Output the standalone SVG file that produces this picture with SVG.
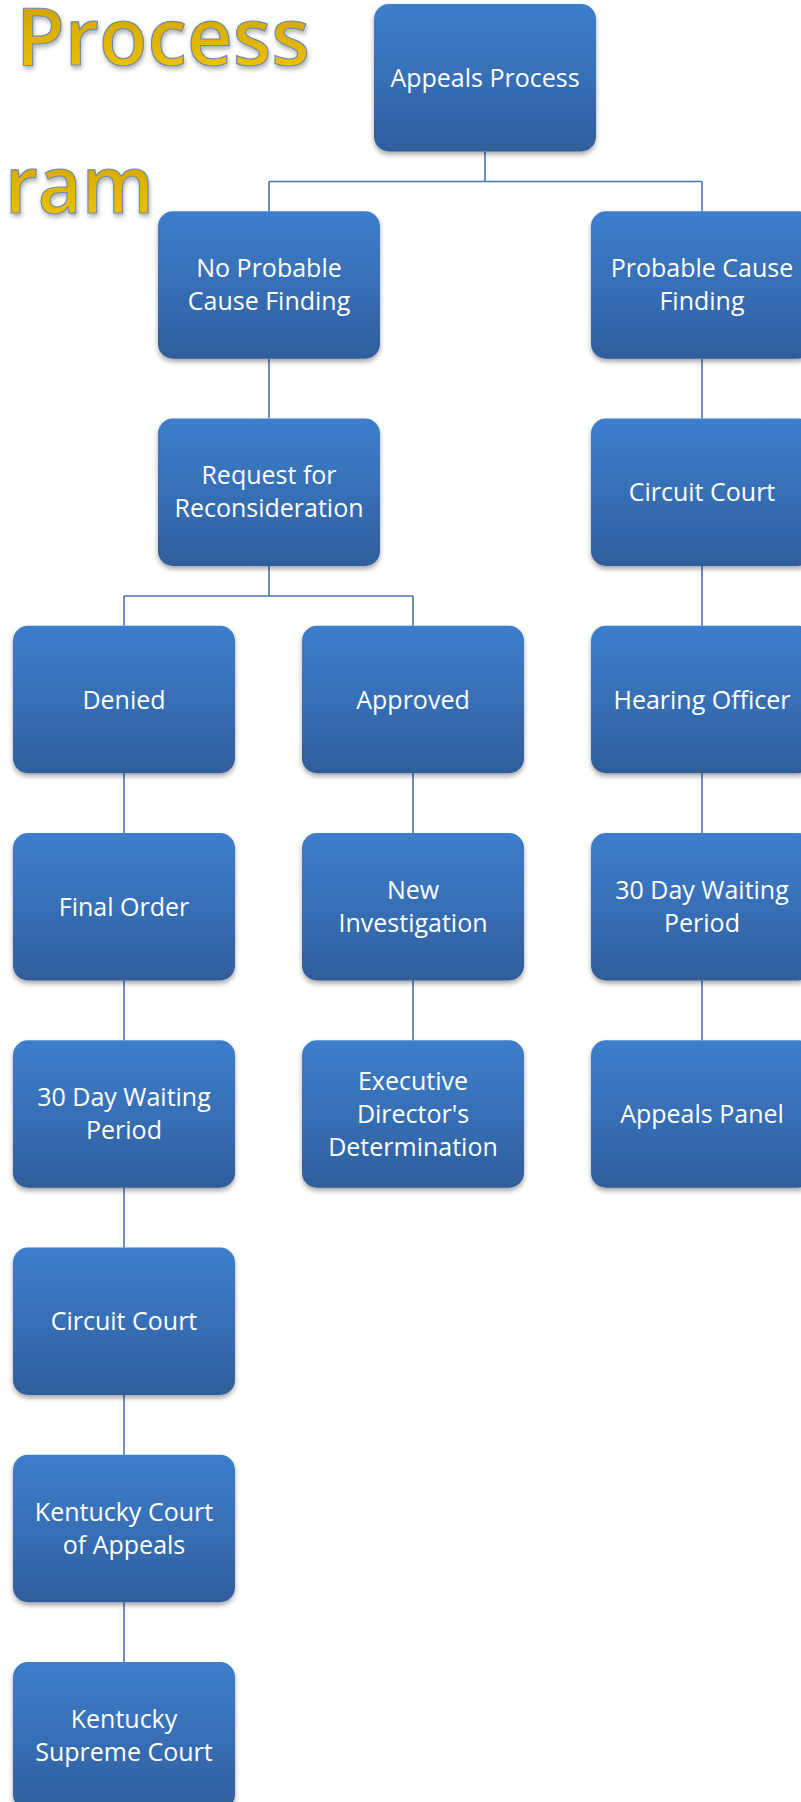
<svg xmlns="http://www.w3.org/2000/svg" width="801" height="1802" viewBox="0 0 801 1802">
  <defs>
    <linearGradient id="boxFill" x1="0" y1="0" x2="0" y2="1">
      <stop offset="0" stop-color="#3c7ecb"/>
      <stop offset="0.5" stop-color="#376fb6"/>
      <stop offset="1" stop-color="#2f5e9b"/>
    </linearGradient>
    <linearGradient id="goldFill" x1="0" y1="0" x2="0" y2="1">
      <stop offset="0" stop-color="#c59700"/>
      <stop offset="1" stop-color="#f7ca00"/>
    </linearGradient>
    <filter id="boxShadow" x="-10%" y="-10%" width="120%" height="125%">
      <feDropShadow dx="0" dy="3" stdDeviation="2.5" flood-color="#000" flood-opacity="0.35"/>
    </filter>
    <filter id="titleShadow" x="-5%" y="-10%" width="110%" height="130%">
      <feDropShadow dx="1" dy="3" stdDeviation="2" flood-color="#000" flood-opacity="0.3"/>
    </filter>
  </defs>
  <style>
    .box { fill: url(#boxFill); filter: url(#boxShadow); }
    .lbl { font-family: "Open Sans", "Noto Sans", "Liberation Sans", sans-serif; font-size: 25px; fill: #ffffff; text-anchor: middle; }
    .title { font-family: "Open Sans", "Noto Sans", "Liberation Sans", sans-serif; font-weight: 600; font-size: 80px; fill: url(#goldFill); stroke: #6e8aae; stroke-width: 1.2; filter: url(#titleShadow); }
    .conn { fill: none; stroke: #4a76ad; stroke-width: 1.6; }
  </style>

  <!-- heading fragments -->
  <g id="title">
    <text class="title" x="16" y="65" textLength="294" lengthAdjust="spacingAndGlyphs">Process</text>
    <text class="title" x="5" y="213" textLength="149" lengthAdjust="spacingAndGlyphs">ram</text>
  </g>

  <!-- connectors -->
  <g id="connectors">
    <path class="conn" d="M485 151.5 V181.5 M269 181.5 H702 M269 181.5 V211.25 M702 181.5 V211.25"/>
    <path class="conn" d="M269 358.75 V418.5"/>
    <path class="conn" d="M269 566 V596 M124 596 H413 M124 596 V625.75 M413 596 V625.75"/>
    <path class="conn" d="M702 358.75 V418.5 M702 566 V625.75 M702 773.25 V833 M702 980.5 V1040.25"/>
    <path class="conn" d="M124 773.25 V833 M124 980.5 V1040.25 M124 1187.75 V1247.5 M124 1395 V1454.75 M124 1602.25 V1662"/>
    <path class="conn" d="M413 773.25 V833 M413 980.5 V1040.25"/>
  </g>

  <g id="n-appeals-process">
    <rect class="box" x="374" y="4" width="222" height="147.5" rx="15"/>
    <text class="lbl" x="485" y="87">Appeals Process</text>
  </g>

  <g id="n-no-probable-cause">
    <rect class="box" x="158" y="211.25" width="222" height="147.5" rx="15"/>
    <text class="lbl" x="269" y="277">No Probable</text>
    <text class="lbl" x="269" y="310">Cause Finding</text>
  </g>

  <g id="n-probable-cause">
    <rect class="box" x="591" y="211.25" width="222" height="147.5" rx="15"/>
    <text class="lbl" x="702" y="277">Probable Cause</text>
    <text class="lbl" x="702" y="310">Finding</text>
  </g>

  <g id="n-reconsideration">
    <rect class="box" x="158" y="418.5" width="222" height="147.5" rx="15"/>
    <text class="lbl" x="269" y="484.25">Request for</text>
    <text class="lbl" x="269" y="517.25">Reconsideration</text>
  </g>

  <g id="n-circuit-court-right">
    <rect class="box" x="591" y="418.5" width="222" height="147.5" rx="15"/>
    <text class="lbl" x="702" y="501.25">Circuit Court</text>
  </g>

  <g id="n-denied">
    <rect class="box" x="13" y="625.75" width="222" height="147.5" rx="15"/>
    <text class="lbl" x="124" y="708.5">Denied</text>
  </g>

  <g id="n-approved">
    <rect class="box" x="302" y="625.75" width="222" height="147.5" rx="15"/>
    <text class="lbl" x="413" y="708.5">Approved</text>
  </g>

  <g id="n-hearing-officer">
    <rect class="box" x="591" y="625.75" width="222" height="147.5" rx="15"/>
    <text class="lbl" x="702" y="708.5">Hearing Officer</text>
  </g>

  <g id="n-final-order">
    <rect class="box" x="13" y="833" width="222" height="147.5" rx="15"/>
    <text class="lbl" x="124" y="915.75">Final Order</text>
  </g>

  <g id="n-new-investigation">
    <rect class="box" x="302" y="833" width="222" height="147.5" rx="15"/>
    <text class="lbl" x="413" y="898.75">New</text>
    <text class="lbl" x="413" y="931.75">Investigation</text>
  </g>

  <g id="n-waiting-right">
    <rect class="box" x="591" y="833" width="222" height="147.5" rx="15"/>
    <text class="lbl" x="702" y="898.75">30 Day Waiting</text>
    <text class="lbl" x="702" y="931.75">Period</text>
  </g>

  <g id="n-waiting-left">
    <rect class="box" x="13" y="1040.25" width="222" height="147.5" rx="15"/>
    <text class="lbl" x="124" y="1106">30 Day Waiting</text>
    <text class="lbl" x="124" y="1139">Period</text>
  </g>

  <g id="n-director-determination">
    <rect class="box" x="302" y="1040.25" width="222" height="147.5" rx="15"/>
    <text class="lbl" x="413" y="1090">Executive</text>
    <text class="lbl" x="413" y="1123">Director's</text>
    <text class="lbl" x="413" y="1156">Determination</text>
  </g>

  <g id="n-appeals-panel">
    <rect class="box" x="591" y="1040.25" width="222" height="147.5" rx="15"/>
    <text class="lbl" x="702" y="1123">Appeals Panel</text>
  </g>

  <g id="n-circuit-court-left">
    <rect class="box" x="13" y="1247.5" width="222" height="147.5" rx="15"/>
    <text class="lbl" x="124" y="1330.25">Circuit Court</text>
  </g>

  <g id="n-ky-court-of-appeals">
    <rect class="box" x="13" y="1454.75" width="222" height="147.5" rx="15"/>
    <text class="lbl" x="124" y="1520.5">Kentucky Court</text>
    <text class="lbl" x="124" y="1553.5">of Appeals</text>
  </g>

  <g id="n-ky-supreme-court">
    <rect class="box" x="13" y="1662" width="222" height="147.5" rx="15"/>
    <text class="lbl" x="124" y="1727.75">Kentucky</text>
    <text class="lbl" x="124" y="1760.75">Supreme Court</text>
  </g>
</svg>
